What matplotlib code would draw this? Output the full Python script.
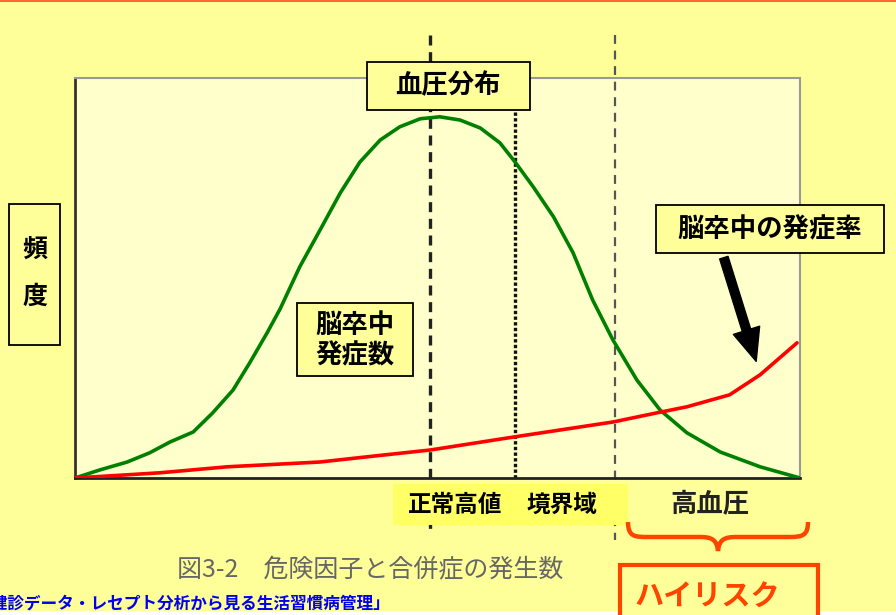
import matplotlib
matplotlib.use('Agg')
import matplotlib.pyplot as plt
import matplotlib.transforms as mtransforms
from matplotlib.patches import Rectangle, PathPatch, FancyArrowPatch
from matplotlib.path import Path

plt.rcParams['font.family'] = ['Noto Sans CJK JP', 'DejaVu Sans']

W, H = 896, 615

# 横軸: 血圧 (0-100), 縦軸: 頻度 (0-100)
bp_green = [0, 3.4, 7.2, 10.3, 13.1, 16.3, 19.0, 21.8, 24.1, 26.5, 28.3, 31.0,
            33.8, 36.6, 39.3, 42.1, 44.8, 47.6, 50.3, 53.1, 55.9, 58.6, 60.7,
            63.2, 66.0, 68.7, 71.4, 74.2, 77.5, 80.7, 84.4, 89.0, 94.5, 100]
freq_green = [0, 2.0, 4.0, 6.3, 9.0, 11.5, 16.3, 22.0, 28.8, 36.3, 42.3, 52.8,
              62.0, 71.3, 79.0, 84.5, 87.8, 89.8, 90.3, 89.5, 87.5, 83.8, 79.0,
              72.8, 65.3, 56.3, 44.5, 34.5, 24.5, 17.0, 11.3, 6.5, 2.8, 0]

bp_red = [0, 11.7, 21.0, 33.8, 40.3, 49.0, 60.7, 66.9, 74.2, 80.3, 84.4, 90.3,
          94.5, 99.6]
rate_red = [0, 1.3, 2.8, 4.0, 5.3, 7.0, 10.3, 12.0, 14.0, 16.3, 17.8, 20.8,
            25.8, 33.8]

# 区分の境界 (正常高値 / 境界域 / 高血圧)
boundaries = [49.0, 60.7, 74.5]

fig = plt.figure(figsize=(W / 100, H / 100), dpi=100, facecolor='#FFFF99')
# ピクセル座標 (左上原点)
px = mtransforms.Affine2D().scale(1 / W, -1 / H).translate(0, 1) + fig.transFigure

ax = fig.add_axes([75 / W, (H - 478) / H, 725 / W, 400 / H])
ax.set_facecolor('#FFFFCC')
ax.set_xlim(0, 100)
ax.set_ylim(0, 100)
ax.set_xticks([])
ax.set_yticks([])
ax.spines['left'].set_color('#333333')
ax.spines['bottom'].set_color('#222222')
ax.spines['top'].set_color('#999999')
ax.spines['right'].set_color('#999999')
for s in ['left', 'bottom']:
    ax.spines[s].set_linewidth(2)
for s in ['top', 'right']:
    ax.spines[s].set_linewidth(1.5)

# 区分線
ax.plot([boundaries[0]] * 2, [110.8, -13.5], color='#222222', lw=2.4,
        ls=(0, (3, 2)), clip_on=False, zorder=2)
ax.plot([boundaries[1]] * 2, [100, 0], color='#111111', lw=2.4,
        ls=(0, (1, 0.7)), clip_on=False, zorder=2)
ax.plot([boundaries[2]] * 2, [110.8, -15.5], color='#555555', lw=1.6,
        ls=(0, (4, 3)), clip_on=False, zorder=2)

ax.plot(bp_green, freq_green, color='#008000', lw=2.6, zorder=3,
        solid_capstyle='round', solid_joinstyle='round')
ax.plot(bp_red, rate_red, color='#FF0000', lw=2.6, zorder=4,
        solid_capstyle='round', solid_joinstyle='round')


def box(x0, y0, x1, y1, fc='#FFFF99', ec='black', lw=1.3, z=5):
    fig.add_artist(Rectangle((x0, y0), x1 - x0, y1 - y0, transform=px,
                             facecolor=fc, edgecolor=ec, linewidth=lw, zorder=z))


def label(x, y, s, size=19, color='black', weight='bold', z=6, **kw):
    fig.text(x, y, s, transform=px, ha='center', va='center', fontsize=size,
             color=color, weight=weight, zorder=z, **kw)


# 上端のオレンジ線と下端の白帯
box(0, 0, W, 2, fc='#FF6633', ec='none', lw=0, z=1)
box(0, 611, W, H, fc='white', ec='none', lw=0, z=1)

# ラベル枠
box(367, 62, 530, 110)
label(448, 86, '血圧分布', size=19)

box(9, 204, 60, 345)
label(35, 250, '頻', size=18)
label(35, 297, '度', size=18)

box(297, 303, 413, 376)
label(355, 341, '脳卒中\n発症数', size=19, linespacing=1.15)

box(656, 205, 884, 253)
label(770, 230, '脳卒中の発症率', size=19)

fig.add_artist(FancyArrowPatch((723, 255), (757, 364), transform=px,
                               arrowstyle='simple,head_length=1.3,head_width=1.1,tail_width=0.35',
                               mutation_scale=18, color='black', zorder=6))

# 区分ラベル
box(393, 484, 628, 525, fc='#FFFF66', ec='none', lw=0, z=4)
label(455, 505, '正常高値', size=17)
label(562, 505, '境界域', size=17)
label(710, 505, '高血圧', size=19, color='#222222')

# ハイリスク
brace = [(628, 522), (628, 537), (635, 537), (648, 537), (700, 537),
         (712, 537), (717, 540), (718, 551), (719, 540), (724, 537),
         (736, 537), (790, 537), (803, 537), (808, 535), (808, 522)]
codes = [Path.MOVETO, Path.CURVE4, Path.CURVE4, Path.CURVE4, Path.LINETO,
         Path.CURVE4, Path.CURVE4, Path.CURVE4, Path.CURVE4, Path.CURVE4,
         Path.CURVE4, Path.LINETO, Path.CURVE4, Path.CURVE4, Path.CURVE4]
fig.add_artist(PathPatch(Path(brace, codes), transform=px, fill=False,
                         edgecolor='#FF4400', linewidth=3.2, zorder=6))

box(620, 565, 818, 640, fc='#FFFF99', ec='#FF4400', lw=3, z=5)
label(707, 597, 'ハイリスク', size=21, color='#FF4400')

# 図タイトルと出典
label(370, 570, '図3-2\u3000危険因子と合併症の発生数', size=18, color='#666666',
      weight='normal')
fig.text(390, 604, '「健診データ・レセプト分析から見る生活習慣病管理」', transform=px,
         ha='right', va='center', fontsize=12, color='#0000EE', weight='bold',
         zorder=6)

fig.savefig('out.png', dpi=100, facecolor=fig.get_facecolor())
